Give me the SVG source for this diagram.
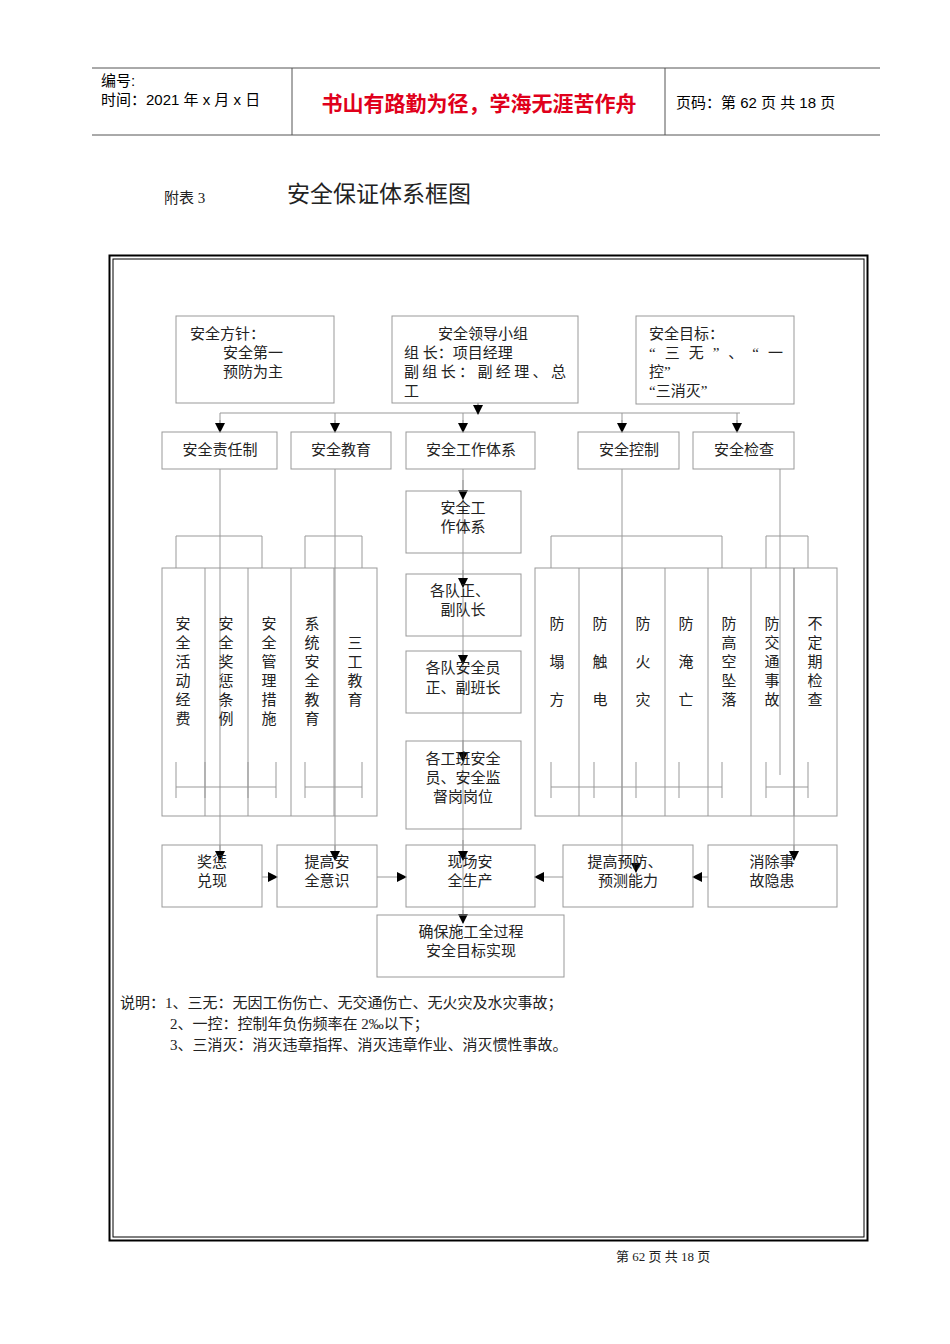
<svg xmlns="http://www.w3.org/2000/svg" width="950" height="1344" viewBox="0 0 950 1344">
<style>
text{font-family:"Liberation Serif","Noto Sans CJK SC",serif;font-size:15px;fill:#222}
.b{fill:none;stroke:#999;stroke-width:1}
.l{stroke:#999;stroke-width:1;fill:none}
.h{font-family:"Liberation Sans","Noto Sans CJK SC",sans-serif;font-size:15px;fill:#000}
.m{text-anchor:middle}
</style>
<defs><marker id="a" markerWidth="10" markerHeight="10" refX="9" refY="5" orient="auto" markerUnits="userSpaceOnUse"><path d="M0,0L10,5L0,10z" fill="#000"/></marker></defs>
<rect width="950" height="1344" fill="#fff"/>
<g id="header">
<line x1="92" y1="68" x2="880" y2="68" stroke="#555"/>
<line x1="92" y1="135" x2="880" y2="135" stroke="#555"/>
<line x1="292" y1="68" x2="292" y2="135" stroke="#555"/>
<line x1="665" y1="68" x2="665" y2="135" stroke="#555"/>
<text x="101" y="86" class="h">编号:</text>
<text x="101" y="105" class="h">时间：2021 年 x 月 x 日</text>
<text x="479" y="111" class="m" style="font-family:'Noto Sans CJK SC',sans-serif;font-size:21px;font-weight:bold;fill:#e0001b">书山有路勤为径，学海无涯苦作舟</text>
<text x="676" y="108" class="h">页码：第 62 页  共 18 页</text>
</g>
<text x="164" y="203">附表 3</text>
<text x="287" y="202" style="font-family:'Noto Sans CJK SC',sans-serif;font-size:23px">安全保证体系框图</text>
<rect x="109.5" y="255.5" width="758" height="985" fill="none" stroke="#000" stroke-width="2"/>
<rect x="113" y="259" width="751" height="978" fill="none" stroke="#000" stroke-width="1"/>
<g id="connectors">
<path class="l" d="M478,403V413M220,413H740M220,413V432M335,413V432M463,413V432M622,413V432M737,413V432"/>
<path class="l" d="M220,469V857M335,469V853M463,469V915M622,469V868M780,469V775M794,568V855"/>
<path class="l" d="M176,568V536H262V568M305,568V536H362V568M551,568V536H722V568M766,568V536H808V568"/>
<path class="l" d="M176,762V798M176,787H276M205,762V798M248,762V798M276,762V798M305,762V798M305,787H362M362,762V798M551,762V798M551,787H722M594,762V798M636,762V798M679,762V798M722,762V798M766,762V798M766,787H808M808,762V798"/>
<g marker-end="url(#a)" class="l">
<line x1="478" y1="403" x2="478" y2="414"/>
<line x1="220" y1="420" x2="220" y2="432"/>
<line x1="335" y1="420" x2="335" y2="432"/>
<line x1="463" y1="420" x2="463" y2="432"/>
<line x1="622" y1="420" x2="622" y2="432"/>
<line x1="737" y1="420" x2="737" y2="432"/>
<line x1="463" y1="480" x2="463" y2="499"/>
<line x1="463" y1="570" x2="463" y2="587"/>
<line x1="463" y1="650" x2="463" y2="664"/>
<line x1="463" y1="740" x2="463" y2="761"/>
<line x1="463" y1="840" x2="463" y2="860"/>
<line x1="463" y1="910" x2="463" y2="923"/>
<line x1="220" y1="845" x2="220" y2="860"/>
<line x1="335" y1="845" x2="335" y2="860"/>
<line x1="636" y1="860" x2="636" y2="872"/>
<line x1="794" y1="845" x2="794" y2="860"/>
<line x1="262" y1="877" x2="277" y2="877"/>
<line x1="377" y1="877" x2="406" y2="877"/>
<line x1="563" y1="877" x2="535" y2="877"/>
<line x1="708" y1="877" x2="693" y2="877"/>
</g>
</g>
<g id="n1"><rect class="b" x="176" y="316" width="158" height="87"/><text x="190" y="339">安全方针：</text><text x="223" y="358">安全第一</text><text x="223" y="377">预防为主</text></g>
<g id="n2"><rect class="b" x="392" y="316" width="186" height="87"/><text x="438" y="339">安全领导小组</text><text x="404" y="358">组  长：项目经理</text><text x="404" y="377" textLength="162">副组长：副经理、总</text><text x="404" y="396">工</text></g>
<g id="n3"><rect class="b" x="636" y="316" width="158" height="88"/><text x="649" y="339">安全目标：</text><text x="649" y="358" textLength="134">“三无”、“一</text><text x="649" y="377">控”</text><text x="649" y="396">“三消灭”</text></g>
<g id="n4"><rect class="b" x="162" y="432" width="115" height="37"/><text x="220" y="455" class="m">安全责任制</text></g>
<g id="n5"><rect class="b" x="291" y="432" width="100" height="37"/><text x="341" y="455" class="m">安全教育</text></g>
<g id="n6"><rect class="b" x="406" y="432" width="129" height="37"/><text x="471" y="455" class="m">安全工作体系</text></g>
<g id="n7"><rect class="b" x="578" y="432" width="101" height="37"/><text x="629" y="455" class="m">安全控制</text></g>
<g id="n8"><rect class="b" x="693" y="432" width="101" height="37"/><text x="744" y="455" class="m">安全检查</text></g>
<g id="n9"><rect class="b" x="406" y="491" width="115" height="62"/><text x="463" y="513" class="m">安全工</text><text x="463" y="532" class="m">作体系</text></g>
<g id="n10"><rect class="b" x="406" y="574" width="115" height="62"/><text x="460" y="596" class="m">各队正、</text><text x="463" y="615" class="m">副队长</text></g>
<g id="n11"><rect class="b" x="406" y="651" width="115" height="62"/><text x="463" y="673" class="m">各队安全员</text><text x="463" y="693" class="m">正、副班长</text></g>
<g id="n12"><rect class="b" x="406" y="741" width="115" height="88"/><text x="463" y="764" class="m">各工班安全</text><text x="463" y="783" class="m">员、安全监</text><text x="463" y="802" class="m">督岗岗位</text></g>
<g id="left">
<rect class="b" x="162" y="568" width="215" height="248"/>
<path class="l" d="M205,568V816M248,568V816M291,568V816M334,568V816"/>
<g class="m"><text x="183" y="629">安</text><text x="183" y="648">全</text><text x="183" y="667">活</text><text x="183" y="686">动</text><text x="183" y="705">经</text><text x="183" y="724">费</text>
<text x="226" y="629">安</text><text x="226" y="648">全</text><text x="226" y="667">奖</text><text x="226" y="686">惩</text><text x="226" y="705">条</text><text x="226" y="724">例</text>
<text x="269" y="629">安</text><text x="269" y="648">全</text><text x="269" y="667">管</text><text x="269" y="686">理</text><text x="269" y="705">措</text><text x="269" y="724">施</text>
<text x="312" y="629">系</text><text x="312" y="648">统</text><text x="312" y="667">安</text><text x="312" y="686">全</text><text x="312" y="705">教</text><text x="312" y="724">育</text>
<text x="355" y="648">三</text><text x="355" y="667">工</text><text x="355" y="686">教</text><text x="355" y="705">育</text></g>
</g>
<g id="right">
<rect class="b" x="535" y="568" width="302" height="248"/>
<path class="l" d="M579,568V816M622,568V816M665,568V816M708,568V816M751,568V816M794,568V816"/>
<g class="m"><text x="557" y="629">防</text><text x="557" y="667">塌</text><text x="557" y="705">方</text>
<text x="600" y="629">防</text><text x="600" y="667">触</text><text x="600" y="705">电</text>
<text x="643" y="629">防</text><text x="643" y="667">火</text><text x="643" y="705">灾</text>
<text x="686" y="629">防</text><text x="686" y="667">淹</text><text x="686" y="705">亡</text>
<text x="729" y="629">防</text><text x="729" y="648">高</text><text x="729" y="667">空</text><text x="729" y="686">坠</text><text x="729" y="705">落</text>
<text x="772" y="629">防</text><text x="772" y="648">交</text><text x="772" y="667">通</text><text x="772" y="686">事</text><text x="772" y="705">故</text>
<text x="815" y="629">不</text><text x="815" y="648">定</text><text x="815" y="667">期</text><text x="815" y="686">检</text><text x="815" y="705">查</text></g>
</g>
<g id="n13"><rect class="b" x="162" y="845" width="100" height="62"/><text x="212" y="867" class="m">奖惩</text><text x="212" y="886" class="m">兑现</text></g>
<g id="n14"><rect class="b" x="277" y="845" width="100" height="62"/><text x="327" y="867" class="m">提高安</text><text x="327" y="886" class="m">全意识</text></g>
<g id="n15"><rect class="b" x="406" y="845" width="129" height="62"/><text x="470" y="867" class="m">现场安</text><text x="470" y="886" class="m">全生产</text></g>
<g id="n16"><rect class="b" x="563" y="845" width="130" height="62"/><text x="625" y="867" class="m">提高预防、</text><text x="628" y="886" class="m">预测能力</text></g>
<g id="n17"><rect class="b" x="708" y="845" width="129" height="62"/><text x="772" y="867" class="m">消除事</text><text x="772" y="886" class="m">故隐患</text></g>
<g id="n18"><rect class="b" x="377" y="915" width="187" height="62"/><text x="471" y="937" class="m">确保施工全过程</text><text x="471" y="956" class="m">安全目标实现</text></g>
<text x="120" y="1008">说明：1、三无：无因工伤伤亡、无交通伤亡、无火灾及水灾事故；</text>
<text x="170" y="1029">2、一控：控制年负伤频率在 2‰以下；</text>
<text x="170" y="1050">3、三消灭：消灭违章指挥、消灭违章作业、消灭惯性事故。</text>
<text x="616" y="1261" style="font-size:13px">第  62  页  共  18  页</text>
</svg>
